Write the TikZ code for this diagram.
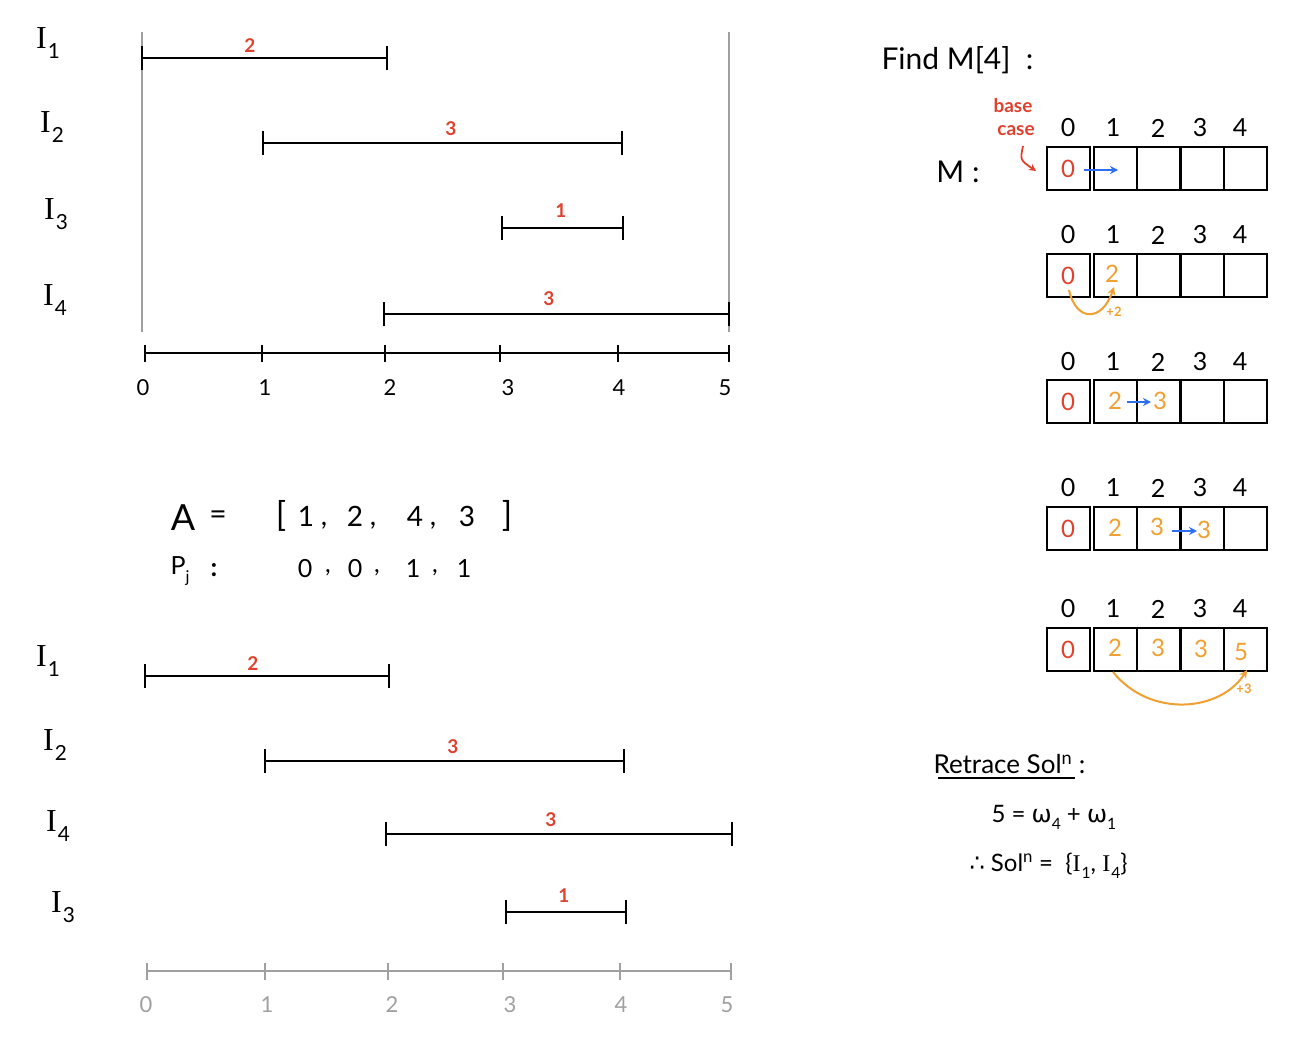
\documentclass[tikz,border=0pt]{standalone}
\usepackage{fontspec}
\setmainfont{Lato}
\newfontfamily\symf{DejaVu Sans}
\newfontfamily\serf{Liberation Serif}
\usetikzlibrary{arrows.meta}
\definecolor{wred}{HTML}{E0412F}
\definecolor{worange}{HTML}{F0A030}
\definecolor{wblue}{HTML}{2E6FF0}
\definecolor{wgray}{HTML}{A0A0A0}
\newcommand\mysub[1]{\raisebox{-0.3em}{\fontsize{0.65em}{0.65em}\selectfont #1}}
\newcommand\Ilab[1]{{\serf I}\kern1pt\mysub{#1}}
\newcommand\ivl[4]{%
  \coordinate (#4a) at (#1,#3); \coordinate (#4b) at (#2,#3);
  \draw[ivline] (#4a) -- (#4b);
  \draw[ivline] ([yshift=-12pt]#4a) -- ([yshift=12pt]#4a);
  \draw[ivline] ([yshift=-12pt]#4b) -- ([yshift=12pt]#4b);}
\begin{document}
\begin{tikzpicture}[x=1pt,y=-1pt,
  ivline/.style={line width=2.2pt,black},
  ilab/.style={font=\fontsize{32}{32}\selectfont},
  wlab/.style={font=\fontsize{19}{19}\selectfont\bfseries,text=wred},
  axlab/.style={font=\fontsize{22}{22}\selectfont},
  idx/.style={font=\fontsize{25}{25}\selectfont},
  cell/.style={draw,line width=2pt,minimum width=43pt,minimum height=43pt,inner sep=0pt,font=\fontsize{24}{24}\selectfont},
  rv/.style={text=wred},
  ov/.style={text=worange},
  barr/.style={wblue,line width=2pt,-{Stealth[length=8pt,width=8pt]}},
  oarr/.style={worange,line width=2pt,-{Stealth[length=8pt,width=8pt]}},
  big/.style={font=\fontsize{30}{30}\selectfont},
  pval/.style={font=\fontsize{25}{25}\selectfont}]
\useasboundingbox (0,0) rectangle (1314,1045);
\fill[white] (0,0) rectangle (1314,1045);

% ---------- top chart ----------
\draw[wgray,line width=2pt] (142,32) -- (142,332);
\draw[wgray,line width=2pt] (729,32) -- (729,332);
\node[ilab] (t1) at (48,43) {\Ilab{1}};
\node[ilab] (t2) at (52,127) {\Ilab{2}};
\node[ilab] (t3) at (56,214) {\Ilab{3}};
\node[ilab] (t4) at (55,300) {\Ilab{4}};
\ivl{142}{387}{58}{ta}
\ivl{263}{622}{143}{tb}
\ivl{502}{623}{228}{tc}
\ivl{384}{729}{314}{td}
\node[wlab] (tw1) at (250,46) {2};
\node[wlab] (tw2) at (451,129) {3};
\node[wlab] (tw3) at (561,211) {1};
\node[wlab] (tw4) at (549,299) {3};
\draw[line width=2.2pt] (145,353) -- (729,353);
\foreach \x/\l/\lx in {145/0/143,262/1/265,385/2/390,500/3/508,618/4/619,729/5/725}{
  \draw[line width=2.2pt] (\x,345) -- (\x,362);
  \node[axlab] at (\lx,388) {\l};
}

% ---------- middle ----------
\node[font=\fontsize{36}{36}\selectfont] (A) at (183,518) {A};
\node[font=\fontsize{30}{30}\selectfont] (eq) at (218,518) {=};
\node[font=\fontsize{34}{34}\selectfont] (lb) at (281,516) {[};
\node[font=\fontsize{34}{34}\selectfont] (rb) at (507,516) {]};
\foreach \x/\v in {306/1,355/2,415/4,467/3}{
  \node[font=\fontsize{28}{28}\selectfont] at (\x,516) {\v};
}
\foreach \x in {324,373,433}{
  \node[font=\fontsize{28}{28}\selectfont] at (\x,526) {,};
}
\node[font=\fontsize{25}{25}\selectfont] (pj) at (180,571) {P\mysub{j}};
\node[font=\fontsize{26}{26}\selectfont\bfseries] at (214,570) {:};
\foreach \x/\v in {305/0,355/0,413/1,464/1}{
  \node[pval] at (\x,569) {\v};
}
\foreach \x in {328,377,435}{
  \node[pval] at (\x,573) {,};
}

% ---------- bottom chart ----------
\node[ilab] (b1) at (48,661) {\Ilab{1}};
\node[ilab] (b2) at (55,745) {\Ilab{2}};
\node[ilab] (b4) at (58,826) {\Ilab{4}};
\node[ilab] (b3) at (63,907) {\Ilab{3}};
\ivl{145}{389}{676}{ba}
\ivl{265}{624}{761}{bb}
\ivl{386}{732}{834}{bd}
\ivl{506}{626}{912}{bc}
\node[wlab] (bw1) at (253,664) {2};
\node[wlab] (bw2) at (453,747) {3};
\node[wlab] (bw4) at (551,820) {3};
\node[wlab] (bw3) at (564,896) {1};
\draw[wgray,line width=2.2pt] (147,971) -- (731,971);
\foreach \x/\l/\lx in {147/0/146,265/1/267,388/2/392,503/3/510,620/4/621,731/5/727}{
  \draw[wgray,line width=2.2pt] (\x,963) -- (\x,980);
  \node[axlab,text=wgray] at (\lx,1005) {\l};
}

% ---------- right side ----------
\node[big,anchor=west] (find) at (878,60) {Find M[4]\ \ :};
\node[big] (Mlab) at (958,172) {M :};
\node[font=\fontsize{19}{19}\selectfont\bfseries,text=wred] (base) at (1013,106) {base};
\node[font=\fontsize{19}{19}\selectfont\bfseries,text=wred] (case) at (1016,131) {case};
\coordinate (bcs) at (1023,146);
\coordinate (bce) at (1036,171);
\draw[wred,line width=1.8pt,-{Stealth[length=7pt,width=7pt]}] (bcs) .. controls (1020,160) .. (bce);

% arrays
\foreach \r/\y/\iy in {1/168.5/128,2/275.5/235,3/401.5/362,4/528.5/488,5/649.5/609}{
  \node[cell] (c\r0) at (1068,\y) {};
  \node[cell] (c\r1) at (1115.5,\y) {};
  \node[cell] (c\r2) at (1158.5,\y) {};
  \node[cell] (c\r3) at (1202,\y) {};
  \node[cell] (c\r4) at (1245.5,\y) {};
  \foreach \i/\ix in {0/1068,1/1113,2/1158,3/1200,4/1240}{
    \node[idx] at (\ix,\iy) {\i};
  }
  \node[cell,rv,draw=none] at (c\r0) {0};
}
% array 1
\coordinate (a1s) at (1084,170);
\coordinate (a1e) at (1118,170);
\draw[barr] (a1s) -- (a1e);
% array 2
\node[cell,ov,draw=none] (v21) at (1112,274) {2};
\coordinate (a2s) at (1069,290);
\coordinate (a2e) at (1114,287);
\draw[oarr] (a2s) .. controls (1076,322) and (1102,322) .. (a2e);
\node[font=\fontsize{13}{13}\selectfont\bfseries,text=worange] at (1114,312) {+2};
% array 3
\node[cell,ov,draw=none] (v31) at (1115,401) {2};
\node[cell,ov,draw=none] (v32) at (1160,401) {3};
\draw[barr] (1127,402) -- (1151,402);
% array 4
\node[cell,ov,draw=none] at (1115,528) {2};
\node[cell,ov,draw=none] at (1157,527) {3};
\node[cell,ov,draw=none] at (1204,530) {3};
\draw[barr] (1172,531) -- (1197,531);
% array 5
\node[cell,ov,draw=none] at (1115,648) {2};
\node[cell,ov,draw=none] at (1158,648) {3};
\node[cell,ov,draw=none] at (1201,649) {3};
\node[cell,ov,draw=none] at (1241,652) {5};
\coordinate (a5s) at (1113,672);
\coordinate (a5e) at (1247,670);
\draw[oarr] (a5s) .. controls (1150,718) and (1220,712) .. (a5e);
\node[font=\fontsize{13}{13}\selectfont\bfseries,text=worange] at (1244,689) {+3};

% retrace
\node[font=\fontsize{26}{26}\selectfont,anchor=west] (ret) at (930,764) {Retrace Sol\textsuperscript{n} :};
\draw[line width=2pt] (938,778) -- (1075,778);
\node[font=\fontsize{24}{24}\selectfont,anchor=west] (eq1) at (988,817) {5 = {\symf ω}\mysub{4} + {\symf ω}\mysub{1}};
\node[font=\fontsize{24}{24}\selectfont,anchor=west] (eq2) at (966,866) {{\symf ∴} Sol\textsuperscript{n} =\ \ \{\Ilab{1}, \Ilab{4}\}};
\end{tikzpicture}
\end{document}
